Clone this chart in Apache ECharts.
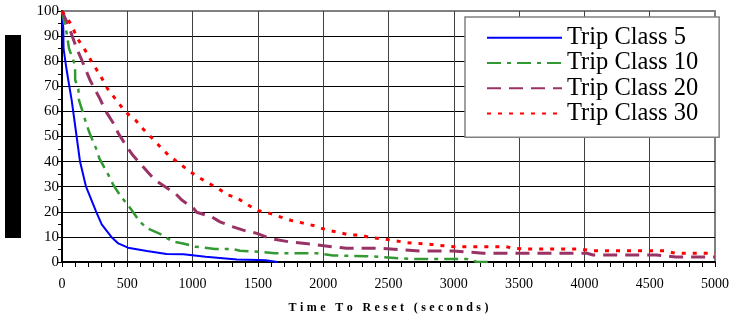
<!DOCTYPE html>
<html>
<head>
<meta charset="utf-8">
<script src="https://cdn.jsdelivr.net/npm/echarts@6/dist/echarts.min.js"></script>
<style>
  html, body { margin: 0; padding: 0; background: #fff; }
  #chart { width: 732px; height: 325px; }
</style>
</head>
<body>
<div id="chart"></div>
<script>
// Curve data: [time to reset (s), percent]
const seriesNames = ['Trip Class 5', 'Trip Class 10', 'Trip Class 20', 'Trip Class 30'];

const tripClass5 = [
  [0, 100], [10, 93], [12, 85], [31, 78], [48, 72.5], [62, 72], [74, 64.5],
  [112, 50], [138, 40], [184, 30], [262, 20], [304, 15], [378, 10], [431, 7.4],
  [505, 5.7], [650, 4.4], [800, 3.2], [930, 3.1], [1100, 2.1], [1340, 1],
  [1500, 0.8], [1560, 0.7], [1650, 0]
];

const tripClass10 = [
  [0, 100], [36, 91], [54, 85], [100, 78.4], [101, 72.5], [125, 69], [130, 64.5],
  [151, 61], [189, 54.6], [214, 51], [266, 44.6], [286, 41.3], [355, 34.7],
  [393, 30.7], [452, 26], [505, 22.7], [597, 16], [651, 13.5], [750, 11.2],
  [850, 8.1], [927, 7.4], [1018, 6.1], [1095, 5.7], [1171, 5.2], [1302, 5.2],
  [1363, 4.5], [1516, 4.1], [1630, 3.5], [1950, 3.5], [2075, 2.6], [2335, 2.3],
  [2450, 2], [2590, 1.4], [2700, 1.2], [3100, 1.2], [3180, 0], [3300, 0]
];

const tripClass20 = [
  [0, 100], [48, 94.4], [112, 85.1], [151, 80.5], [214, 72.5], [291, 65],
  [329, 60.6], [393, 55.3], [431, 51.3], [495, 46], [546, 42.3], [661, 35.6],
  [712, 32.7], [827, 28.7], [865, 27.5], [917, 24.7], [1005, 21.5], [1031, 19.8],
  [1146, 18], [1210, 16], [1310, 14], [1387, 12.7], [1493, 11.4], [1593, 9.4],
  [1733, 8.1], [1899, 7.2], [2065, 6.1], [2180, 5.5], [2420, 5.5], [2611, 4.8],
  [2740, 4.4], [2995, 4.4], [3124, 3.9], [3225, 3.5], [4020, 3.5], [4066, 2.8],
  [4550, 2.8], [4700, 2.0], [5000, 2.0]
];

const tripClass30 = [
  [0, 100], [74, 94.4], [117, 89.1], [176, 84.5], [227, 79.8], [291, 74.5],
  [347, 69.2], [406, 65.2], [482, 60], [567, 56.3], [623, 52.9], [687, 49.5],
  [750, 46], [814, 42.6], [891, 39.6], [962, 36.7], [1036, 34], [1150, 30.6],
  [1190, 29.5], [1270, 26.7], [1340, 25.5], [1425, 22.7], [1500, 20.5],
  [1577, 19.6], [1758, 16.5], [1847, 15.5], [1942, 14.3], [2027, 12.7],
  [2120, 11.8], [2200, 10.8], [2280, 10.8], [2363, 9.7], [2460, 9.2],
  [2550, 8.5], [2639, 7.7], [2733, 7.4], [2830, 7], [2917, 6.5], [3000, 6.1],
  [3400, 6.1], [3453, 5.5], [3560, 5.2], [3966, 5.2], [4058, 4.5], [4617, 4.5],
  [4694, 3.5], [5000, 3.5]
];

const xTitle = 'Time To Reset (seconds)';

const serif = '"Liberation Serif", "Times New Roman", serif';

// Spread the axis title letters apart with one rich token per character
const spacedTitle = xTitle.split('').map(ch => '{c|' + ch + '}').join('');

const lineDefs = [
  { data: tripClass5,  color: '#0000ff', width: 2,   type: 'solid' },
  { data: tripClass10, color: '#339933', width: 2.5, type: [14, 6, 4, 6] },
  { data: tripClass20, color: '#993366', width: 3,   type: [14, 8] },
  { data: tripClass30, color: '#ff0000', width: 3,   type: [4, 7] }
];

const chart = echarts.init(document.getElementById('chart'), null, { renderer: 'canvas' });

chart.setOption({
  animation: false,
  backgroundColor: '#ffffff',
  grid: {
    left: 62, right: 17, top: 11, bottom: 63,
    show: true,
    borderColor: '#808080',
    borderWidth: 2,
    backgroundColor: 'transparent'
  },
  graphic: [{
    type: 'rect',
    shape: { x: 5, y: 35, width: 16, height: 203 },
    style: { fill: '#000' }
  }],
  legend: {
    orient: 'vertical',
    left: 465, top: 17,
    padding: [8, 21, 11, 21],
    backgroundColor: '#ffffff',
    borderColor: '#808080',
    borderWidth: 1.5,
    borderRadius: 0,
    itemWidth: 75,
    itemHeight: 10,
    itemGap: 0,
    itemStyle: { opacity: 0 },
    data: seriesNames,
    textStyle: {
      fontFamily: serif,
      fontSize: 24.5,
      lineHeight: 25.3,
      color: '#000'
    }
  },
  xAxis: {
    type: 'value',
    min: 0, max: 5000, interval: 500,
    name: spacedTitle,
    nameLocation: 'middle',
    nameGap: 40,
    nameTextStyle: {
      rich: {
        c: {
          fontFamily: serif, fontWeight: 'bold', fontSize: 12,
          color: '#000', padding: [0, 1.7, 0, 1.7]
        }
      }
    },
    axisLine: { show: true, lineStyle: { color: '#000', width: 2 } },
    axisTick: { show: true, length: 5, lineStyle: { color: '#000', width: 1 } },
    minorTick: { show: true, splitNumber: 5, length: 5, lineStyle: { color: '#000', width: 1 } },
    axisLabel: {
      fontFamily: serif, fontSize: 14, color: '#000', margin: 15,
      formatter: v => String(v)
    },
    splitLine: { show: true, showMaxLine: false, lineStyle: { color: '#404040', width: 1 } }
  },
  yAxis: {
    type: 'value',
    min: 0, max: 100, interval: 10,
    axisLine: { show: true, lineStyle: { color: '#000', width: 2 } },
    axisTick: { show: true, length: 4, lineStyle: { color: '#000', width: 1 } },
    minorTick: { show: true, splitNumber: 2, length: 4, lineStyle: { color: '#000', width: 1 } },
    axisLabel: {
      fontFamily: serif, fontSize: 15, color: '#000', margin: 3,
      formatter: v => String(v)
    },
    splitLine: { show: true, showMaxLine: false, lineStyle: { color: '#000', width: 1 } }
  },
  series: lineDefs.map((d, i) => ({
    name: seriesNames[i],
    type: 'line',
    data: d.data,
    symbol: 'none',
    showSymbol: false,
    smooth: false,
    clip: true,
    color: d.color,
    lineStyle: { color: d.color, width: d.width, type: d.type }
  }))
});
</script>
</body>
</html>
